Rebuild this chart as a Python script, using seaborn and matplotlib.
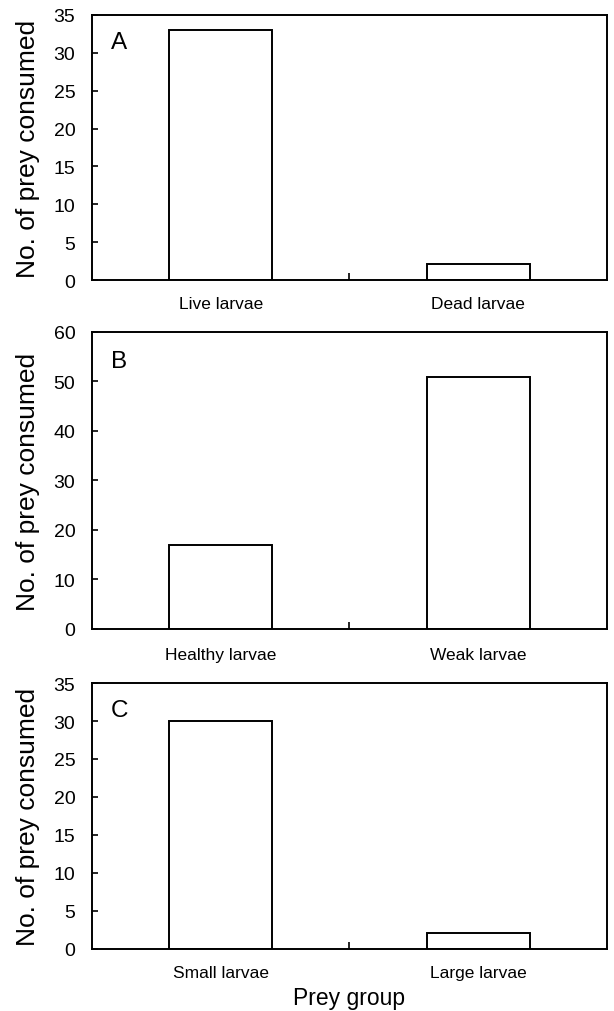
import matplotlib
matplotlib.use("Agg")
import matplotlib.pyplot as plt
import seaborn as sns
import pandas as pd

sns.set_style("ticks")
plt.rcParams['font.family'] = ['Liberation Sans', 'DejaVu Sans']
plt.rcParams['text.color'] = 'black'
plt.rcParams['axes.labelcolor'] = 'black'
plt.rcParams['xtick.color'] = 'black'
plt.rcParams['ytick.color'] = 'black'

# Data
cats_a = ["Live larvae", "Dead larvae"]
vals_a = [33, 2.1]
cats_b = ["Healthy larvae", "Weak larvae"]
vals_b = [17, 51]
cats_c = ["Small larvae", "Large larvae"]
vals_c = [30, 2.1]
panel_letters = ["A", "B", "C"]
ylims = [35, 60, 35]
ysteps = [5, 10, 5]
ylabel = "No. of prey consumed"
xlabel = "Prey group"

fig = plt.figure(figsize=(6.14, 10.12), dpi=100)
positions = [
    [0.1498, 0.7223, 0.8388, 0.2619],
    [0.1498, 0.3775, 0.8388, 0.2935],
    [0.1498, 0.0613, 0.8388, 0.2628],
]

panels = [(cats_a, vals_a), (cats_b, vals_b), (cats_c, vals_c)]
for i, ((cats, vals), pos) in enumerate(zip(panels, positions)):
    ax = fig.add_axes(pos)
    df = pd.DataFrame({"group": cats, "value": vals})
    sns.barplot(data=df, x="group", y="value", ax=ax, color="white",
                edgecolor="black", linewidth=1.4, width=0.4, saturation=1)
    ax.set_xlim(-0.5, 1.5)
    ax.set_ylim(0, ylims[i])
    ax.set_yticks(range(0, ylims[i] + 1, ysteps[i]))
    for s in ax.spines.values():
        s.set_visible(True)
        s.set_linewidth(1.4)
        s.set_color("black")
    ax.tick_params(axis="y", direction="in", length=4, width=1.2,
                   labelsize=14, pad=12, colors="black")
    # category labels without ticks, one center tick
    ax.set_xticks([0.5], minor=False)
    ax.set_xticklabels([""])
    ax.tick_params(axis="x", direction="in", length=5, width=1.2)
    for j, c in enumerate(cats):
        ax.text(j, -0.06, c, transform=ax.get_xaxis_transform(),
                ha="center", va="top", fontsize=12.5, color="black")
    ax.set_ylabel(ylabel, fontsize=19, color="black")
    ax.yaxis.set_label_coords(-0.1, 0.5)
    ax.set_xlabel("")
    ax.text(0.037, 0.94, panel_letters[i], transform=ax.transAxes,
            ha="left", va="top", fontsize=17.5, color="black")

ax.text(0.5, -0.14, xlabel, transform=ax.transAxes, ha="center",
        va="top", fontsize=16.5, color="black")

fig.savefig("out.png", dpi=100, facecolor="white")
